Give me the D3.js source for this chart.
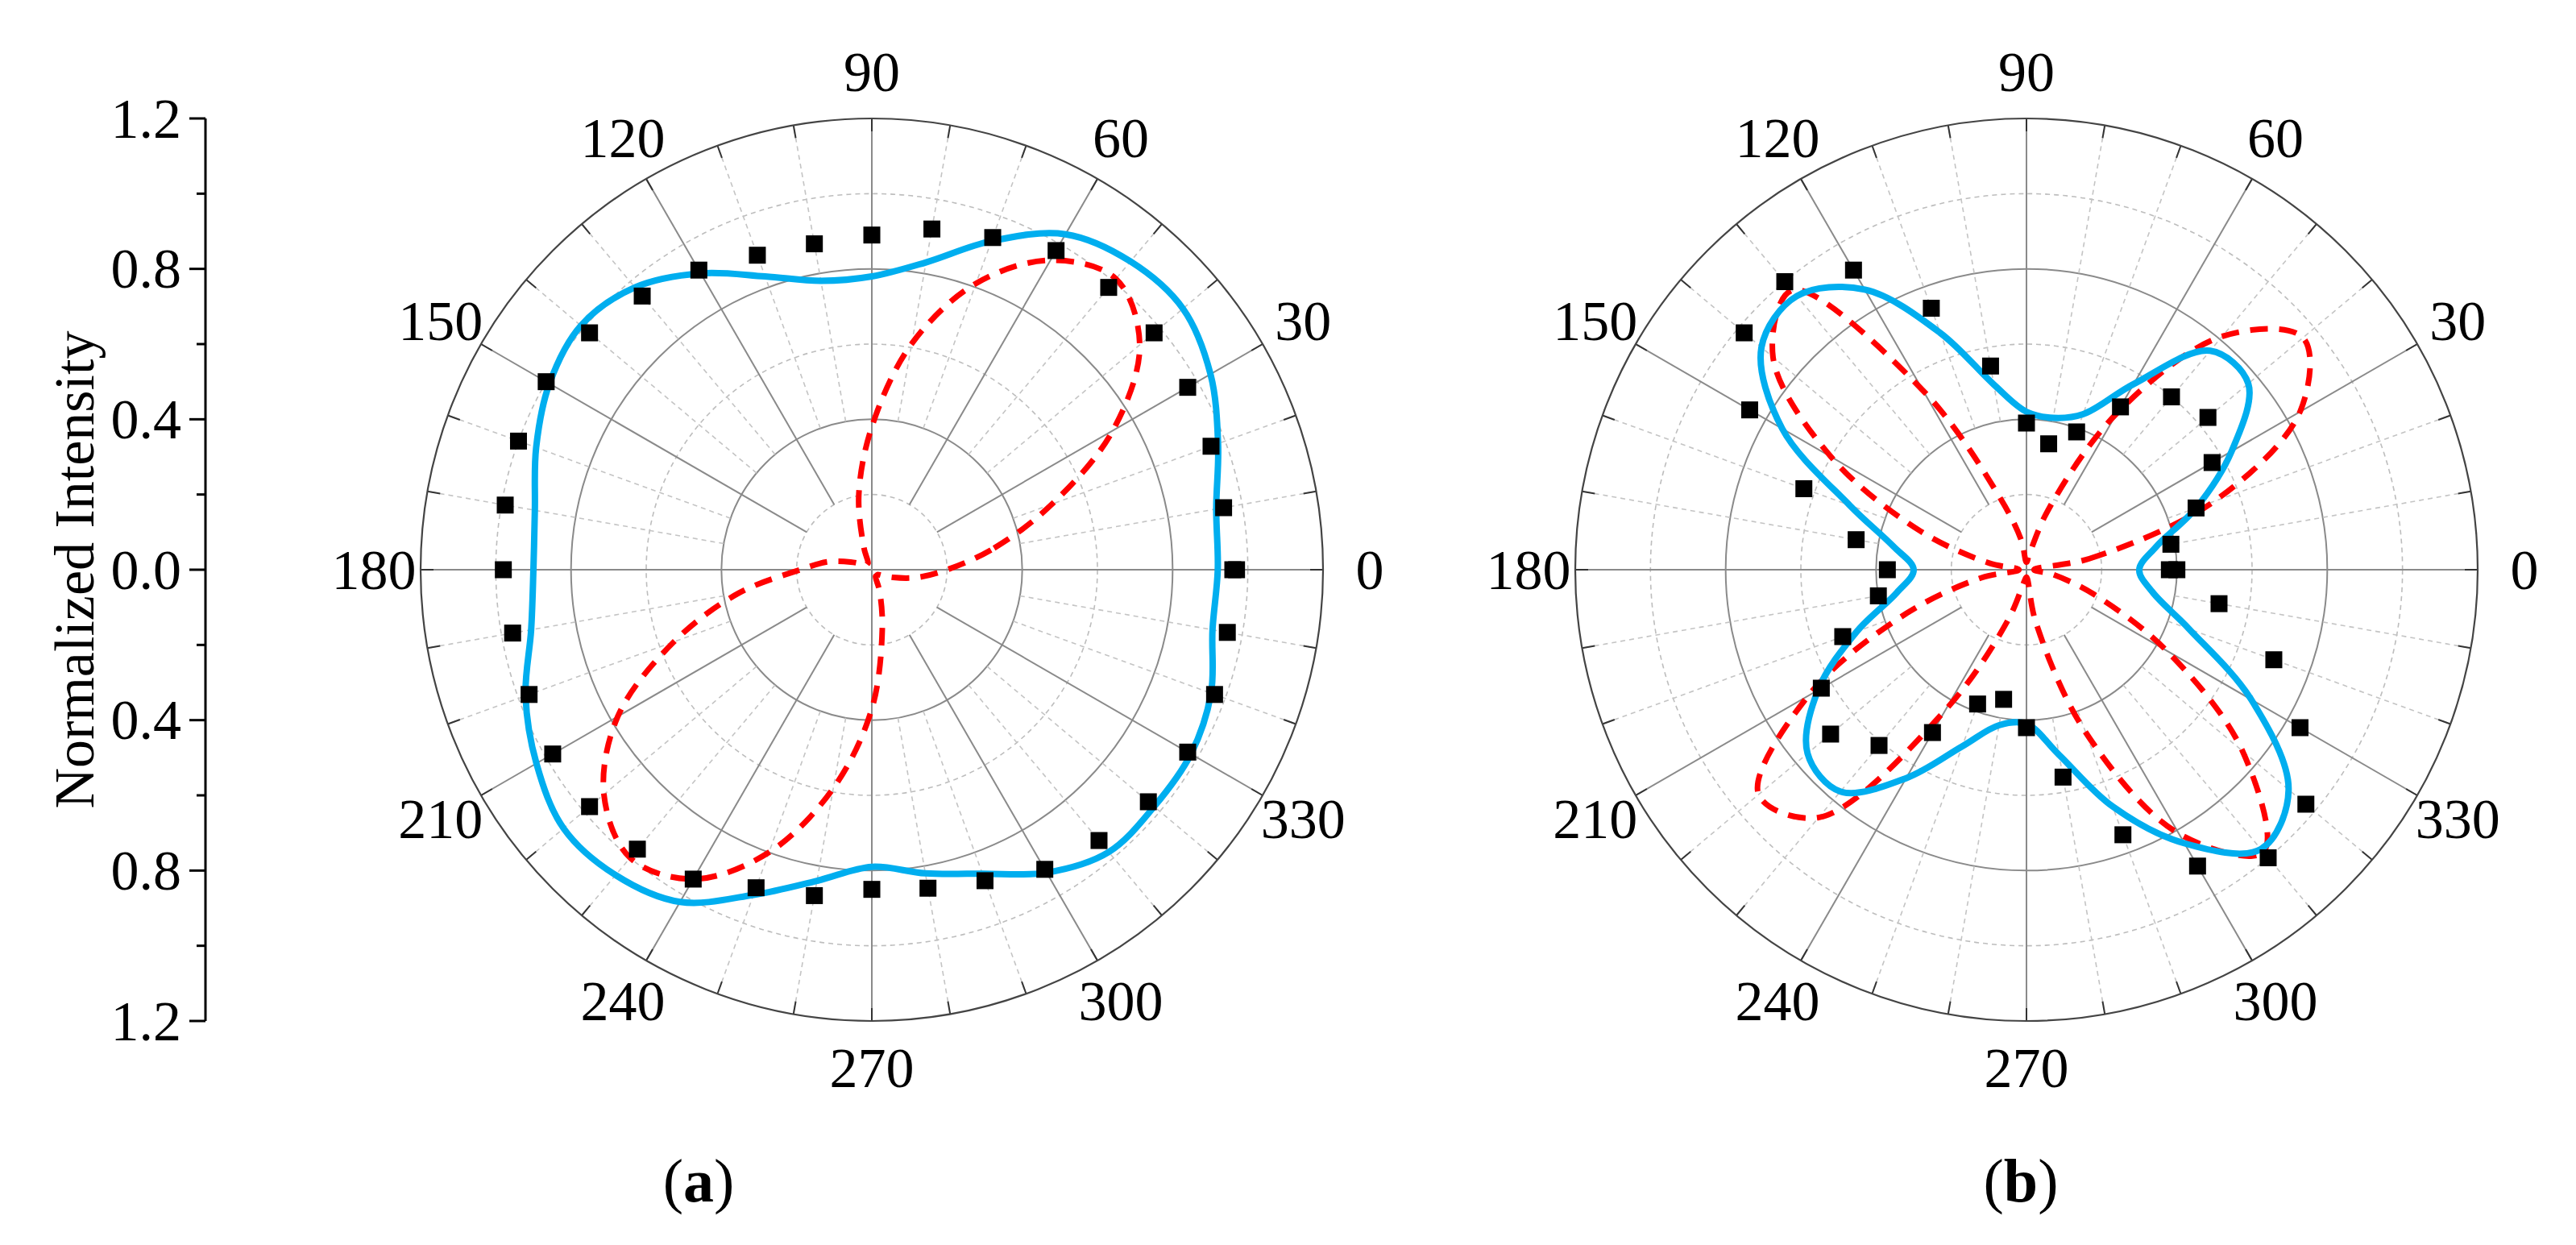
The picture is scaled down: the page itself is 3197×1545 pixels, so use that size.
<!DOCTYPE html>
<html><head><meta charset="utf-8">
<script src="https://cdn.jsdelivr.net/npm/d3@7"></script>
<style>body{margin:0;background:#fff}</style>
</head><body>
<svg id="c" width="3197" height="1545"></svg>
<script>
// angles (deg) for measured squares
const squareAngles = [0,10,20,30,40,50,60,70,80,90,100,110,120,130,140,150,160,170,180,190,200,210,220,230,240,250,260,270,280,290,300,310,320,330,340,350,360];
const squaresA = [0.96,0.95,0.96,0.97,0.98,0.98,0.98,0.94,0.92,0.89,0.88,0.89,0.92,0.95,0.98,1.0,1.0,0.99,0.98,0.97,0.97,0.98,0.98,0.97,0.95,0.90,0.88,0.85,0.86,0.88,0.92,0.94,0.96,0.97,0.97,0.96,0.97];
const squaresB = [0.38,0.39,0.48,0.57,0.63,0.60,0.50,0.39,0.34,0.39,0.55,0.74,0.92,1.0,0.98,0.85,0.63,0.46,0.37,0.40,0.52,0.63,0.68,0.61,0.50,0.38,0.35,0.42,0.56,0.75,0.91,1.0,0.97,0.84,0.70,0.52,0.40];
// curve samples every 10 degrees (0..350)
const curveAngles = d3.range(0,360,10);
const blueA = [0.92,0.93,0.98,1.04,1.08,1.07,1.03,0.93,0.83,0.78,0.78,0.83,0.91,0.98,1.01,0.99,0.95,0.91,0.90,0.92,0.98,1.03,1.07,1.06,1.02,0.92,0.84,0.79,0.82,0.86,0.93,0.98,0.98,0.98,0.96,0.92];
const redA  = [0.20,0.33,0.51,0.74,0.93,1.01,0.95,0.81,0.61,0.38,0.20,0.06,0.02,0.02,0.02,0.03,0.06,0.12,0.19,0.36,0.56,0.78,0.93,1.0,0.95,0.80,0.59,0.37,0.16,0.06,0.02,0.02,0.02,0.03,0.06,0.12];
const blueB = [0.30,0.35,0.48,0.63,0.77,0.76,0.57,0.44,0.41,0.42,0.50,0.67,0.86,0.95,0.92,0.75,0.50,0.36,0.30,0.35,0.48,0.64,0.76,0.77,0.64,0.50,0.42,0.41,0.50,0.67,0.84,0.97,0.91,0.69,0.46,0.34];
const redB  = [0.02,0.17,0.53,0.84,0.96,0.81,0.48,0.17,0.04,0.02,0.08,0.20,0.55,0.97,0.88,0.60,0.30,0.10,0.02,0.12,0.34,0.67,0.93,0.86,0.43,0.14,0.03,0.02,0.14,0.46,0.81,0.98,0.75,0.43,0.19,0.07];
const angleLabels = [0,30,60,90,120,150,180,210,240,270,300,330];
const axisTickLabels = ["1.2","0.8","0.4","0.0","0.4","0.8","1.2"];
const axisTickValues = [1.2,0.8,0.4,0,-0.4,-0.8,-1.2];

const svg = d3.select("#c");
const R = 560, CY = 707;
const rs = d3.scaleLinear().domain([0,1.2]).range([0,R]);
const FONT = "'Liberation Serif','DejaVu Serif',serif";
const rad = d => (90 - d) * Math.PI / 180; // math angle
const toD3 = d => (90 - rad(d)*180/Math.PI) * Math.PI/180; // d3 radial angle (clockwise from up)

function panel(cx, squares, blue, red) {
  const g = svg.append("g").attr("transform", `translate(${cx},${CY})`);
  // circles
  [0.2,0.4,0.6,0.8,1.0].forEach(v => {
    const solid = Math.abs(v*10 % 4) < 1e-6;
    g.append("circle").attr("r", rs(v)).attr("fill","none")
     .attr("stroke", solid ? "#8a8a8a" : "#bdbdbd")
     .attr("stroke-width", solid ? 2 : 1.6)
     .attr("stroke-dasharray", solid ? null : "6 5");
  });
  // radial lines
  d3.range(0,360,10).forEach(a => {
    const th = a*Math.PI/180;
    const major = a % 30 === 0;
    const axis = a % 90 === 0;
    const r0 = axis ? 0 : (major ? rs(0.2) : rs(0.4));
    g.append("line")
     .attr("x1", r0*Math.cos(th)).attr("y1", -r0*Math.sin(th))
     .attr("x2", R*Math.cos(th)).attr("y2", -R*Math.sin(th))
     .attr("stroke", major ? "#8a8a8a" : "#c4c4c4")
     .attr("stroke-width", major ? 2 : 1.6)
     .attr("stroke-dasharray", major ? null : "6 5");
    g.append("line")
     .attr("x1", (R-16)*Math.cos(th)).attr("y1", -(R-16)*Math.sin(th))
     .attr("x2", R*Math.cos(th)).attr("y2", -R*Math.sin(th))
     .attr("stroke", "#333").attr("stroke-width", 2);
  });
  g.append("circle").attr("r", R).attr("fill","none").attr("stroke","#444").attr("stroke-width",2.2);
  // angle labels
  angleLabels.forEach(a => {
    const th = a*Math.PI/180, lr = R + 58;
    g.append("text").attr("x", lr*Math.cos(th)).attr("y", -lr*Math.sin(th))
     .attr("text-anchor","middle").attr("dominant-baseline","central")
     .attr("font-family",FONT).attr("font-size",70).text(a);
  });
  const line = d3.lineRadial().curve(d3.curveCatmullRomClosed.alpha(0.5))
    .angle(d => d[0]*-Math.PI/180 + Math.PI/2).radius(d => rs(d[1]));
  g.append("path").attr("d", line(curveAngles.map((a,i)=>[a,red[i]])))
   .attr("fill","none").attr("stroke","#ff0000").attr("stroke-width",7)
   .attr("stroke-dasharray","22 14");
  g.append("path").attr("d", line(curveAngles.map((a,i)=>[a,blue[i]])))
   .attr("fill","none").attr("stroke","#00aeef").attr("stroke-width",8);
  const s = 21;
  g.selectAll("rect.sq").data(squareAngles.map((a,i)=>[a,squares[i]])).enter()
   .append("rect").attr("width",s).attr("height",s).attr("fill","#000")
   .attr("x", d => rs(d[1])*Math.cos(d[0]*Math.PI/180) - s/2)
   .attr("y", d => -rs(d[1])*Math.sin(d[0]*Math.PI/180) - s/2);
}
panel(1082, squaresA, blueA, redA);
panel(2515, squaresB, blueB, redB);

// left axis
const ys = d3.scaleLinear().domain([1.2,-1.2]).range([CY-R, CY+R]);
const ax = svg.append("g").attr("transform","translate(255,0)");
ax.append("line").attr("x1",0).attr("x2",0).attr("y1",ys(1.2)).attr("y2",ys(-1.2)).attr("stroke","#000").attr("stroke-width",3);
d3.range(-1.2,1.21,0.2).forEach(v => {
  const major = Math.abs(Math.round(v*10)) % 4 === 0;
  ax.append("line").attr("x1",0).attr("x2", major ? -20 : -11).attr("y1",ys(v)).attr("y2",ys(v)).attr("stroke","#000").attr("stroke-width",3);
});
axisTickValues.forEach((v,i) => {
  ax.append("text").attr("x",-30).attr("y",ys(v)).attr("text-anchor","end").attr("dominant-baseline","central")
    .attr("font-family",FONT).attr("font-size",70).text(axisTickLabels[i]);
});
svg.append("text").attr("transform",`translate(92,${CY}) rotate(-90)`).attr("text-anchor","middle")
  .attr("dominant-baseline","central").attr("font-family",FONT).attr("font-size",70).text("Normalized Intensity");
// panel labels
[["a",867],["b",2508]].forEach(([t,x]) => {
  const tx = svg.append("text").attr("x",x).attr("y",1465).attr("text-anchor","middle").attr("dominant-baseline","central")
    .attr("font-family",FONT).attr("font-size",76);
  tx.append("tspan").text("(");
  tx.append("tspan").attr("font-weight","bold").text(t);
  tx.append("tspan").text(")");
});
</script>
</body></html>
